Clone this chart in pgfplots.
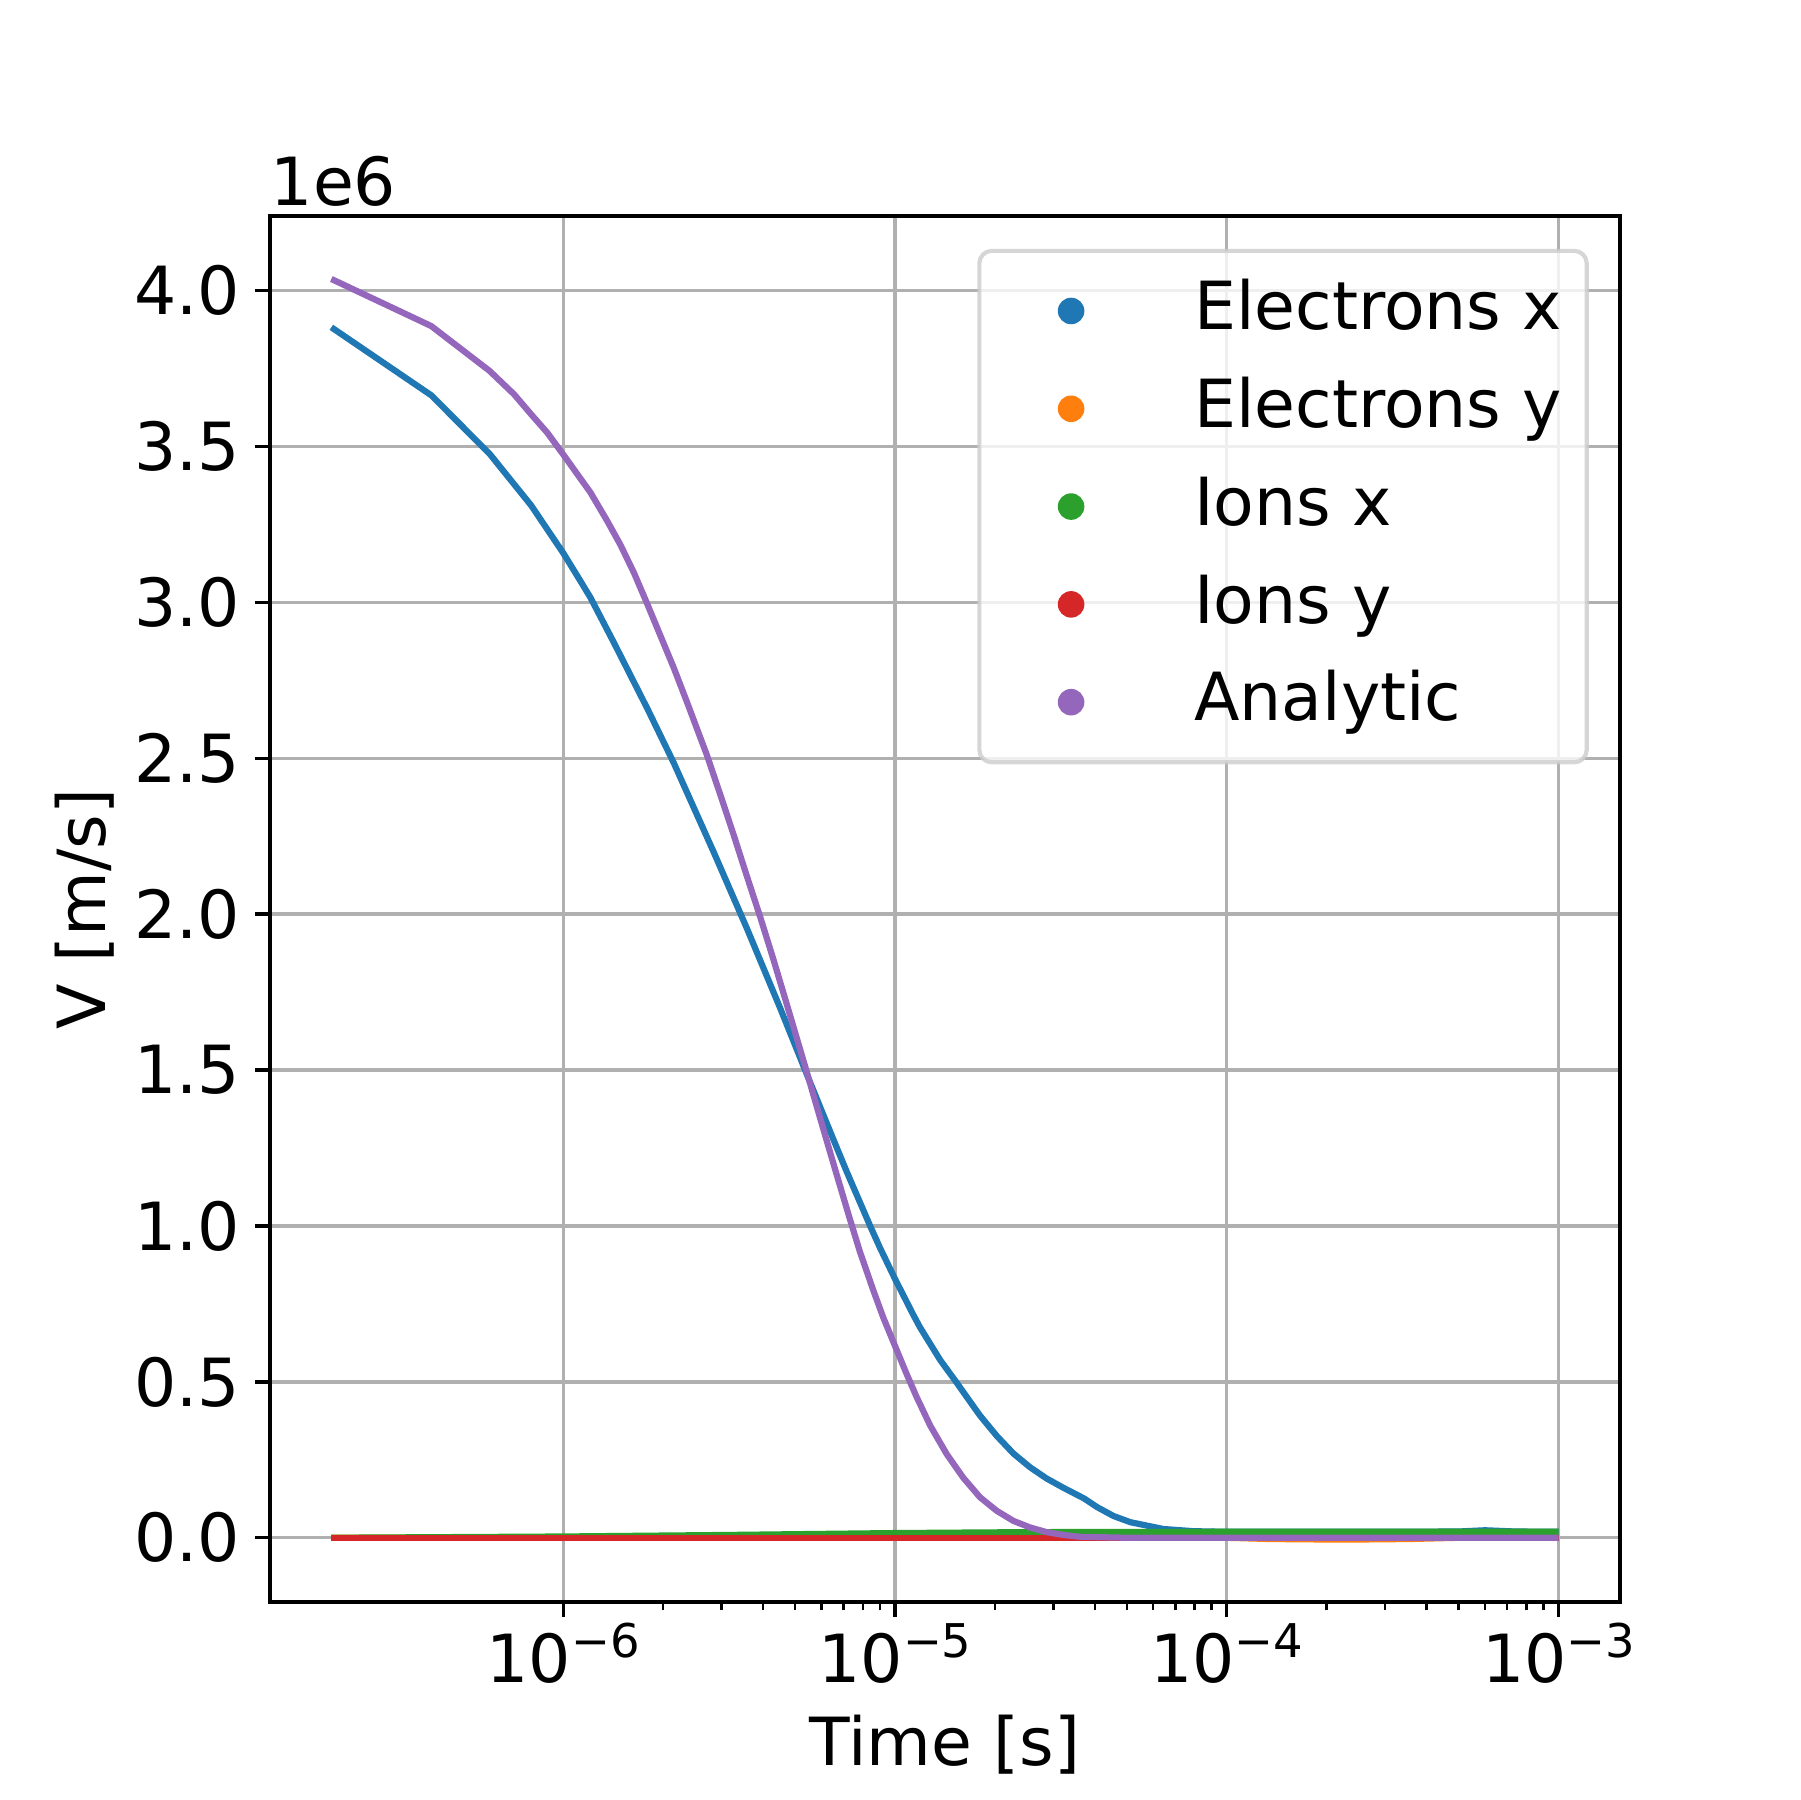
\documentclass[border=0pt]{standalone}
\usepackage{fontspec}
\setmainfont{DejaVu Sans}
\usepackage{pgfplots}
\pgfplotsset{compat=1.18}
\definecolor{c0}{HTML}{1F77B4}
\definecolor{c1}{HTML}{FF7F0E}
\definecolor{c2}{HTML}{2CA02C}
\definecolor{c3}{HTML}{D62728}
\definecolor{c4}{HTML}{9467BD}
\definecolor{gridgray}{HTML}{B0B0B0}
\definecolor{legedge}{HTML}{CCCCCC}
\newcommand\fs{\fontsize{16}{19.2}\selectfont}
\newcommand\tl[1]{10\raisebox{6pt}{\fontsize{11.2}{11.2}\selectfont −#1}}
\begin{document}
\begin{tikzpicture}
\useasboundingbox (0,0) rectangle (6in,6in);
\begin{axis}[
  name=ax,
  at={(0.9in,0.66in)}, anchor=south west,
  scale only axis, width=4.5in, height=4.62in,
  xmode=log,
  xmin=1.306e-7, xmax=1.531e-3,
  ymin=-0.206, ymax=4.239,
  xtick={1e-6,1e-5,1e-4,1e-3},
  xticklabels={\tl{6},\tl{5},\tl{4},\tl{3}},
  ytick={0,0.5,1,1.5,2,2.5,3,3.5,4},
  minor y tick num=0,
  /pgf/number format/.cd, fixed, fixed zerofill, precision=1, assume math mode=true,
  /pgfplots/.cd,
  scaled y ticks=false,
  tick pos=left, tick align=outside,
  major tick length=3.5pt, minor tick length=2pt,
  every tick/.style={black, line width=0.8pt},
  minor tick style={line width=0.6pt},
  axis line style={line width=0.8pt},
  grid=major,
  major grid style={color=gridgray, line width=0.8pt},
  xticklabel style={font=\fs, anchor=base, inner sep=0pt, yshift=-15.8pt},
  yticklabel style={font=\fs, anchor=east, inner sep=0pt, xshift=-3.5pt},
  xlabel={Time [s]},
  ylabel={V [m/s]},
  xlabel style={font=\fs, at={(axis description cs:0.5,0)}, anchor=base, inner sep=0pt, yshift=-39.3pt},
  ylabel style={font=\fs, at={(axis description cs:0,0.5)}, anchor=base, inner sep=0pt, yshift=39.5pt},
  legend style={at={(1,1)}, anchor=north east, xshift=-7.5pt, yshift=-7.9pt,
    draw=legedge, fill=white, fill opacity=0.8, draw opacity=0.8, text opacity=1,
    line width=1pt, rounded corners=3pt, inner xsep=6pt, inner ysep=2.7pt, row sep=0pt,
    font=\fs, nodes={inner sep=0pt, text height=16.28pt, text depth=7.28pt}},
  legend cell align=left,
  every axis plot/.append style={line width=1.5pt, line join=round,
    legend image code/.code={\path[draw=none] (0pt,0pt) -- (45.8pt,0pt);
      \fill[##1, draw=none, fill opacity=1] (16.1pt,0pt) circle (3.2pt);}},
]
\addplot[c0] coordinates {
(2e-7,3.882) (4e-7,3.664) (6e-7,3.476) (8e-7,3.311) (8.95e-7,3.234) (1e-6,3.158)
(1.127e-6,3.068) (1.208e-6,3.015) (1.419e-6,2.872) (1.596e-6,2.765) (1.791e-6,2.660)
(2.153e-6,2.485) (2.838e-6,2.200) (3.581e-6,1.953) (4.508e-6,1.698) (5.358e-6,1.500)
(5.943e-6,1.382) (6.516e-6,1.278) (7.145e-6,1.175) (8.414e-6,1.0) (9.016e-6,0.929)
(1e-5,0.830) (1.135e-5,0.715) (1.189e-5,0.675) (1.368e-5,0.570) (1.535e-5,0.497)
(1.644e-5,0.452) (1.803e-5,0.392) (2.028e-5,0.326) (2.275e-5,0.270) (2.553e-5,0.226)
(2.864e-5,0.190) (3.221e-5,0.160) (3.715e-5,0.126) (4.055e-5,0.099) (4.550e-5,0.070)
(5.117e-5,0.050) (6.442e-5,0.028) (7.943e-5,0.021) (1e-4,0.019) (3e-4,0.019)
(5e-4,0.020) (6e-4,0.024) (7.4e-4,0.020) (1e-3,0.019)};
\addlegendentry{Electrons x}
\addplot[c1] coordinates {
(2e-7,0) (1e-4,0) (1.349e-4,-0.004) (2.239e-4,-0.006) (3.548e-4,-0.004) (5.012e-4,0) (1e-3,0)};
\addlegendentry{Electrons y}
\addplot[c2] coordinates {
(2e-7,0.0) (1e-6,0.004) (3.162e-6,0.009) (1e-5,0.015) (2.512e-5,0.018) (1e-4,0.019) (1e-3,0.019)};
\addlegendentry{Ions x}
\addplot[c3] coordinates {(2e-7,0) (1e-4,0) (1e-3,0)};
\addlegendentry{Ions y}
\addplot[c4] coordinates {
(2e-7,4.037) (4e-7,3.886) (6e-7,3.742) (7.11e-7,3.667) (8e-7,3.603) (8.95e-7,3.544)
(1e-6,3.474) (1.208e-6,3.352) (1.355e-6,3.262) (1.486e-6,3.185) (1.633e-6,3.095)
(1.791e-6,2.995) (1.963e-6,2.893) (2.153e-6,2.790) (2.360e-6,2.680) (2.710e-6,2.510)
(2.972e-6,2.384) (3.266e-6,2.253) (3.581e-6,2.120) (3.926e-6,1.990) (4.305e-6,1.853)
(4.721e-6,1.710) (5.058e-6,1.602) (5.358e-6,1.512) (5.675e-6,1.420) (6.081e-6,1.310)
(6.668e-6,1.165) (7.311e-6,1.022) (7.834e-6,0.918) (8.610e-6,0.792) (9.226e-6,0.705)
(1e-5,0.615) (1.084e-5,0.525) (1.161e-5,0.452) (1.276e-5,0.360) (1.432e-5,0.268)
(1.607e-5,0.192) (1.803e-5,0.130) (2.028e-5,0.086) (2.275e-5,0.054) (2.553e-5,0.033)
(2.864e-5,0.018) (3.221e-5,0.009) (3.614e-5,0.003) (5.012e-5,0.0) (1e-3,0.0)};
\addlegendentry{Analytic}
\end{axis}
\node[anchor=base west, inner sep=0pt, font=\fs] at ([yshift=2.6pt]ax.north west) {1e6};
\end{tikzpicture}
\end{document}
